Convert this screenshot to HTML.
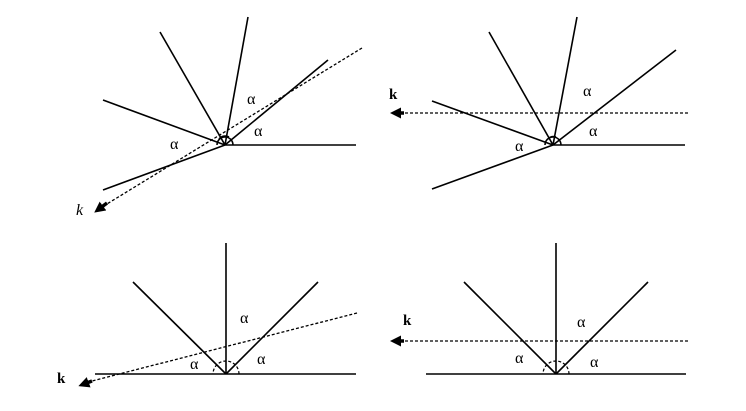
<!DOCTYPE html>
<html><head><meta charset="utf-8"><style>
html,body{margin:0;padding:0;background:#fff;}
svg{display:block}
text{font-family:"Liberation Serif",serif;fill:#000}
</style></head><body>
<svg width="746" height="411" viewBox="0 0 746 411" xmlns="http://www.w3.org/2000/svg">
<defs>
<marker id="ar" markerWidth="11" markerHeight="11" refX="5" refY="5.5" orient="auto" markerUnits="userSpaceOnUse">
<path d="M0,0 L11,5.5 L0,11 Z" fill="#000"/></marker>
</defs>
<g stroke="#000" stroke-width="1.6" fill="none">
<!-- Panel 1 -->
<line x1="225" y1="145" x2="356" y2="145"/>
<line x1="225" y1="145" x2="103" y2="190"/>
<line x1="225" y1="145" x2="103" y2="100"/>
<line x1="225" y1="145" x2="160" y2="32"/>
<line x1="225" y1="145" x2="248" y2="17"/>
<line x1="225" y1="145" x2="328" y2="60"/>
<line x1="362" y1="48" x2="102" y2="207" stroke-dasharray="3,2" stroke-width="1.3"/>
<line x1="107" y1="203" x2="99" y2="209" stroke-width="3.5" marker-end="url(#ar)"/>
<path d="M233,145 A8,8 0 0 0 217,145"/>
<path d="M229,137 A8,8 0 0 0 219,139"/>
<!-- Panel 2 -->
<line x1="553" y1="145" x2="685" y2="145"/>
<line x1="553" y1="145" x2="432" y2="189"/>
<line x1="553" y1="145" x2="432" y2="101"/>
<line x1="553" y1="145" x2="489" y2="32"/>
<line x1="553" y1="145" x2="577" y2="17"/>
<line x1="553" y1="145" x2="676" y2="50"/>
<line x1="688" y1="113" x2="400" y2="113" stroke-dasharray="3,2" stroke-width="1.3"/>
<line x1="404" y1="113" x2="396" y2="113" stroke-width="3.5" marker-end="url(#ar)"/>
<path d="M561,145 A8,8 0 0 0 545,145"/>
<path d="M556,137 A8,8 0 0 0 548,139"/>
<!-- Panel 3 -->
<line x1="95" y1="374" x2="356" y2="374"/>
<line x1="226" y1="374" x2="226" y2="243"/>
<line x1="226" y1="374" x2="133" y2="282"/>
<line x1="226" y1="374" x2="318" y2="282"/>
<line x1="357" y1="313" x2="88" y2="382" stroke-dasharray="3,2" stroke-width="1.3"/>
<line x1="92" y1="381" x2="84" y2="384" stroke-width="3.5" marker-end="url(#ar)"/>
<path d="M239,374 A13,13 0 0 0 213,374" stroke-dasharray="3,2" stroke-width="1.2"/>
<!-- Panel 4 -->
<line x1="426" y1="374" x2="686" y2="374"/>
<line x1="556" y1="374" x2="556" y2="243"/>
<line x1="556" y1="374" x2="464" y2="282"/>
<line x1="556" y1="374" x2="648" y2="282"/>
<line x1="688" y1="341" x2="400" y2="341" stroke-dasharray="3,2" stroke-width="1.3"/>
<line x1="404" y1="341" x2="396" y2="341" stroke-width="3.5" marker-end="url(#ar)"/>
<path d="M569,374 A13,13 0 0 0 543,374" stroke-dasharray="3,2" stroke-width="1.2"/>
</g>
<g font-size="16">
<text x="247" y="104">α</text><text x="254" y="136">α</text><text x="170" y="149">α</text>
<text x="583" y="96">α</text><text x="589" y="136">α</text><text x="515" y="151">α</text>
<text x="240" y="323">α</text><text x="257" y="364">α</text><text x="190" y="369">α</text>
<text x="577" y="327">α</text><text x="590" y="367">α</text><text x="515" y="363">α</text>
<text x="76" y="215" font-size="16" font-style="italic">k</text>
</g>
<g font-size="15" font-weight="bold">
<text x="389" y="99">k</text>
<text x="57" y="383">k</text>
<text x="403" y="325">k</text>
</g>
</svg>
</body></html>
